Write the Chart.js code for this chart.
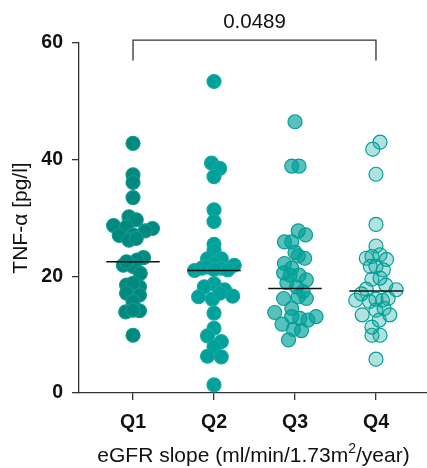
<!DOCTYPE html>
<html>
<head>
<meta charset="utf-8">
<script src="https://cdn.jsdelivr.net/npm/chart.js@4/dist/chart.umd.min.js"></script>
<style>
html,body{margin:0;padding:0;background:#fff;}
#wrap{width:427px;height:468px;position:relative;}
</style>
</head>
<body>
<div id="wrap"><canvas id="c" width="427" height="468"></canvas></div>
<script>
const categories = ["Q1", "Q2", "Q3", "Q4"];
const yTicks = [0, 20, 40, 60];
const pValueLabel = "0.0489";

const q1Values = [42.8,37.4,36.1,33.5,30.2,29.7,28.7,28.2,28.5,27.8,27.0,27.1,26.2,26.5,23.2,22.8,21.9,21.7,22.5,20.5,18.5,18.2,18.8,17.1,16.8,15.7,13.9,14.1,14.2,9.9];
const q1Jitter = [0,0,0,0,-0.05,0.04,-0.24,0.24,-0.08,0.15,-0.17,0,-0.05,0.04,0.13,0.05,-0.12,0,-0.08,0.09,-0.08,0.08,0,-0.08,0.08,0,-0.09,0.08,0,0];

const q2Values = [53.4,39.4,38.5,37.1,31.4,29.4,25.5,24.5,23.0,23.0,22.2,21.0,21.4,21.6,21.4,21.9,21.1,21.2,18.7,18.2,16.5,17.7,16.6,16.1,17.1,13.7,11.1,9.8,8.8,7.9,6.3,6.2,1.4];
const q2Jitter = [0,-0.03,0.07,0,0,0,0,0,-0.08,0.09,0,-0.24,-0.15,-0.08,0.09,0.25,0.17,0,0,-0.12,-0.19,0.13,0.23,-0.02,0.07,0,0,-0.08,0.09,0,-0.08,0.09,0];

const q3Values = [46.5,38.9,38.9,27.8,27.1,25.9,25.9,24.1,23.1,23.5,22.2,20.6,21.4,20.2,20.2,19.4,18.9,18.2,16.2,16.5,16.2,17.4,13.8,14.5,13.1,12.8,12.5,13.1,11.8,10.9,10.7,9.1];
const q3Jitter = [0,-0.04,0.05,0.04,0.13,-0.13,-0.04,0,0.12,0.04,-0.13,-0.14,-0.04,-0.06,0.05,0.14,-0.1,0.02,-0.14,0.04,0.14,0.1,-0.25,-0.04,-0.04,0.06,0.16,0.26,-0.16,-0.02,0.08,-0.08];

const q4Values = [43.0,41.8,37.5,28.9,25.2,23.1,23.4,23.7,22.9,21.7,21.7,21.1,19.5,19.7,17.8,18.5,17.7,17.0,15.9,15.7,16.1,15.9,16.2,14.2,14.5,13.4,13.4,12.5,11.3,9.9,9.9,5.8];
const q4Jitter = [0.05,-0.04,0,0,0,-0.12,-0.05,0.05,0.13,-0.07,0,0.09,-0.05,0.05,-0.12,0.12,0.25,-0.18,-0.25,-0.08,0,0.08,0.15,0,0.1,-0.17,0.17,0.04,-0.05,-0.05,0.05,0];

const medians = [22.5, 21.0, 17.9, 17.5];

const groupValues = [q1Values, q2Values, q3Values, q4Values];
const groupJitter = [q1Jitter, q2Jitter, q3Jitter, q4Jitter];
const fills = ["#00897f", "#00a19a", "rgba(0,160,152,0.65)", "rgba(0,160,152,0.3)"];
const borders = ["#17978e", "#17a8a1", "#00a098", "#00a098"];

const FONT = "'Liberation Sans', Arial, Helvetica, sans-serif";

// let the plot area reach the right edge of the canvas (no automatic point overflow padding)
['scatter', 'line'].forEach(t => {
  const C = Chart.registry.getController(t);
  C.prototype.getMaxOverflow = function () { return 0; };
});

const datasets = [];
groupValues.forEach((vals, g) => {
  datasets.push({
    type: 'scatter',
    label: categories[g],
    data: vals.map((v, i) => ({x: g + groupJitter[g][i], y: v})),
    backgroundColor: fills[g],
    borderColor: borders[g],
    borderWidth: 1.2,
    pointRadius: 7,
    pointHoverRadius: 7,
    order: 2
  });
});
medians.forEach((m, g) => {
  datasets.push({
    type: 'line',
    label: 'median ' + categories[g],
    data: [{x: g - 0.33, y: m}, {x: g + 0.33, y: m}],
    borderColor: '#111',
    borderWidth: 1.5,
    pointRadius: 0,
    fill: false,
    order: 1
  });
});
// significance bracket between Q1 and Q4
datasets.push({
  type: 'line',
  label: 'bracket',
  data: [{x: 0, y: 57.0}, {x: 0, y: 60.5}, {x: 3, y: 60.5}, {x: 3, y: 57.0}],
  borderColor: '#333',
  borderWidth: 1.3,
  pointRadius: 0,
  fill: false,
  clip: false,
  order: 0
});

const bracketText = {
  id: 'bracketText',
  afterDatasetsDraw(chart) {
    const {ctx, scales: {x, y}} = chart;
    const cx = (x.getPixelForValue(0) + x.getPixelForValue(3)) / 2;
    const cy = y.getPixelForValue(60.5) - 18;
    ctx.save();
    ctx.font = "20.5px " + FONT;
    ctx.fillStyle = '#111';
    ctx.textAlign = 'center';
    ctx.textBaseline = 'middle';
    ctx.fillText(pValueLabel, cx, cy);
    ctx.restore();
  }
};

const xTitle = {
  id: 'xTitle',
  afterDraw(chart) {
    const {ctx} = chart;
    ctx.save();
    ctx.fillStyle = '#111';
    ctx.textBaseline = 'alphabetic';
    const base = 462;
    const parts = [["eGFR slope (ml/min/1.73m", 21, 0], ["2", 14, -9], ["/year)", 21, 0]];
    let total = 0;
    parts.forEach(p => { ctx.font = p[1] + "px " + FONT; total += ctx.measureText(p[0]).width; });
    let xpos = 253.5 - total / 2;
    ctx.textAlign = 'left';
    parts.forEach(p => {
      ctx.font = p[1] + "px " + FONT;
      ctx.fillText(p[0], xpos, base + p[2]);
      xpos += ctx.measureText(p[0]).width;
    });
    ctx.restore();
  }
};

new Chart(document.getElementById('c'), {
  data: {datasets},
  options: {
    responsive: false,
    animation: false,
    devicePixelRatio: 1,
    layout: {padding: {top: 43, right: 0, left: 0, bottom: 0}},
    plugins: {legend: {display: false}, tooltip: {enabled: false}},
    scales: {
      x: {
        type: 'linear',
        min: -0.667,
        max: 3.63,
        afterBuildTicks(scale) { scale.ticks = categories.map((c, i) => ({value: i})); },
        afterFit(scale) { scale.height = 75; },
        ticks: {
          callback: (v) => categories[v],
          color: '#111',
          font: {family: FONT, size: 19.5, weight: 'bold'},
          padding: 11
        },
        grid: {display: true, drawOnChartArea: false, drawTicks: true, tickLength: 7, color: '#333', lineWidth: 1.3},
        border: {display: true, color: '#333', width: 1.3},
        title: {display: false}
      },
      y: {
        type: 'linear',
        min: 0,
        max: 60,
        afterBuildTicks(scale) { scale.ticks = yTicks.map(v => ({value: v})); },
        afterFit(scale) { scale.width = 79; },
        ticks: {
          color: '#111',
          font: {family: FONT, size: 19.5, weight: 'bold'},
          padding: 9
        },
        grid: {display: true, drawOnChartArea: false, drawTicks: true, tickLength: 7, color: '#333', lineWidth: 1.3},
        border: {display: true, color: '#333', width: 1.3},
        title: {
          display: true,
          text: 'TNF-α [pg/l]',
          color: '#111',
          font: {family: FONT, size: 21, weight: 'normal'},
          padding: {top: 9, bottom: 4}
        }
      }
    }
  },
  plugins: [bracketText, xTitle]
});
</script>
</body>
</html>
